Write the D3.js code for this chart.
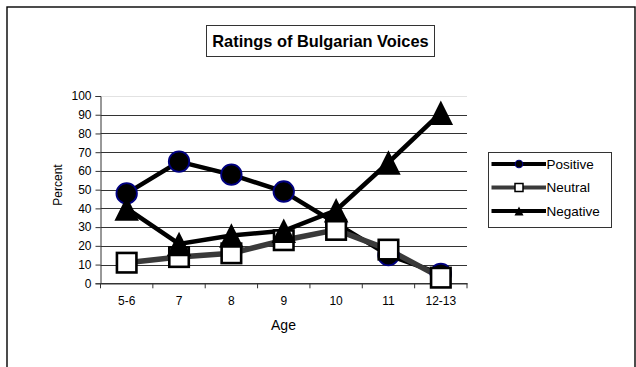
<!DOCTYPE html>
<html>
<head>
<meta charset="utf-8">
<script src="https://cdn.jsdelivr.net/npm/d3@7"></script>
<style>
  html, body { margin: 0; padding: 0; background: #fff; }
  svg { display: block; font-family: Arial, "Liberation Sans", sans-serif; }
</style>
</head>
<body>
<svg id="chart" width="636" height="367"></svg>
<script>
// Age groups and percentage ratings per series
const categories = ["5-6", "7", "8", "9", "10", "11", "12-13"];
const positive = [48, 65, 58, 49, 32, 15, 5];
const neutral  = [11, 14, 16, 23, 28.5, 18, 3];
const negative = [40, 21, 25.5, 28, 39, 64.5, 91];
const seriesNames = ["Positive", "Neutral", "Negative"];
const yTicks = [0, 10, 20, 30, 40, 50, 60, 70, 80, 90, 100];

const series = [
  { name: seriesNames[0], values: positive, stroke: "#000", width: 4.5, marker: "circle" },
  { name: seriesNames[1], values: neutral,  stroke: "#3a3a3a", width: 5.5, marker: "square" },
  { name: seriesNames[2], values: negative, stroke: "#000", width: 4.5, marker: "triangle" }
];

const svg = d3.select("#chart");

// outer chart frame
svg.append("rect")
  .attr("x", 7).attr("y", 7).attr("width", 628).attr("height", 380)
  .attr("fill", "none").attr("stroke", "#000").attr("stroke-width", 1.4);

// title box
svg.append("rect")
  .attr("x", 206.5).attr("y", 25.5).attr("width", 228).attr("height", 31)
  .attr("fill", "#fff").attr("stroke", "#333").attr("stroke-width", 1);
svg.append("text")
  .attr("x", 320.5).attr("y", 46.5)
  .attr("text-anchor", "middle")
  .attr("font-size", 16.4).attr("font-weight", "bold")
  .text("Ratings of Bulgarian Voices");

// scales
const x = d3.scaleBand().domain(categories).range([100.5, 467]).padding(0);
const cx = c => x(c) + x.bandwidth() / 2;
const y = d3.scaleLinear().domain([0, 100]).range([283.3, 96]);

// gridlines
svg.append("g").selectAll("line")
  .data(yTicks.filter(t => t > 0))
  .join("line")
  .attr("x1", 100.5).attr("x2", 467)
  .attr("y1", d => Math.round(y(d)) + 0.5).attr("y2", d => Math.round(y(d)) + 0.5)
  .attr("stroke", d => d === 100 ? "#e2e2e2" : "#333")
  .attr("stroke-width", 1);

// y axis
const yAxis = svg.append("g")
  .attr("transform", "translate(100.5,0)")
  .call(d3.axisLeft(y).tickValues(yTicks).tickSize(5).tickPadding(4).tickFormat(d3.format("d")));
yAxis.select(".domain").attr("stroke", "#333");
yAxis.selectAll(".tick line").attr("stroke", "#333");
yAxis.selectAll(".tick text").attr("font-size", 12).attr("fill", "#000")
  .attr("font-family", 'Arial, "Liberation Sans", sans-serif');

// x axis: labels centred in bands, ticks at band boundaries
const xAxis = svg.append("g")
  .attr("transform", `translate(0,${y(0)})`)
  .call(d3.axisBottom(x).tickSize(0).tickPadding(13));
xAxis.select(".domain").attr("stroke", "#333").attr("stroke-width", 1.5);
xAxis.selectAll(".tick text").attr("font-size", 12).attr("fill", "#000")
  .attr("font-family", 'Arial, "Liberation Sans", sans-serif');
const boundaries = categories.map(c => x(c)).concat([x(categories[categories.length - 1]) + x.bandwidth()]);
xAxis.selectAll("line.bound")
  .data(boundaries)
  .join("line")
  .attr("class", "bound")
  .attr("x1", d => d).attr("x2", d => d)
  .attr("y1", 0).attr("y2", 5)
  .attr("stroke", "#333").attr("stroke-width", 1);

// axis titles
svg.append("text")
  .attr("transform", "translate(62,185) rotate(-90)")
  .attr("text-anchor", "middle")
  .attr("font-size", 12)
  .text("Percent");
svg.append("text")
  .attr("x", 283.5).attr("y", 330)
  .attr("text-anchor", "middle")
  .attr("font-size", 14)
  .text("Age");

// lines
const line = d3.line().x((d, i) => cx(categories[i])).y(d => y(d));
series.forEach(s => {
  svg.append("path")
    .datum(s.values)
    .attr("d", line)
    .attr("fill", "none")
    .attr("stroke", s.stroke)
    .attr("stroke-width", s.width)
    .attr("stroke-linejoin", "miter");
});

// markers
function drawMarker(g, type, px, py, size) {
  if (type === "circle") {
    g.append("circle").attr("cx", px).attr("cy", py).attr("r", size / 2)
      .attr("fill", "#000").attr("stroke", "#000080").attr("stroke-width", size > 12 ? 1.8 : 1.2);
  } else if (type === "square") {
    g.append("rect").attr("x", px - size / 2).attr("y", py - size / 2)
      .attr("width", size).attr("height", size)
      .attr("fill", "#fff").attr("stroke", "#000").attr("stroke-width", size > 12 ? 2.6 : 1.5);
  } else {
    const h = size;
    g.append("path")
      .attr("d", `M${px},${py - h / 2}L${px + h / 2},${py + h / 2}L${px - h / 2},${py + h / 2}Z`)
      .attr("fill", "#000");
  }
}
const markerSize = { circle: 20.5, square: 19.5, triangle: 24.5 };
series.forEach(s => {
  const g = svg.append("g");
  s.values.forEach((v, i) => drawMarker(g, s.marker, cx(categories[i]), y(v), markerSize[s.marker]));
});

// legend
svg.append("rect")
  .attr("x", 488.5).attr("y", 152.5).attr("width", 123).attr("height", 75)
  .attr("fill", "#fff").attr("stroke", "#333").attr("stroke-width", 1);
const legendY = [164, 187.5, 211];
const legendSize = { circle: 7.5, square: 8, triangle: 9 };
series.forEach((s, i) => {
  const g = svg.append("g");
  g.append("line")
    .attr("x1", 491.5).attr("x2", 546)
    .attr("y1", legendY[i]).attr("y2", legendY[i])
    .attr("stroke", s.stroke).attr("stroke-width", 4);
  drawMarker(g, s.marker, 519, legendY[i], legendSize[s.marker]);
  g.append("text")
    .attr("x", 546.5).attr("y", legendY[i] + 4.8)
    .attr("font-size", 13.5)
    .text(s.name);
});
</script>
</body>
</html>
